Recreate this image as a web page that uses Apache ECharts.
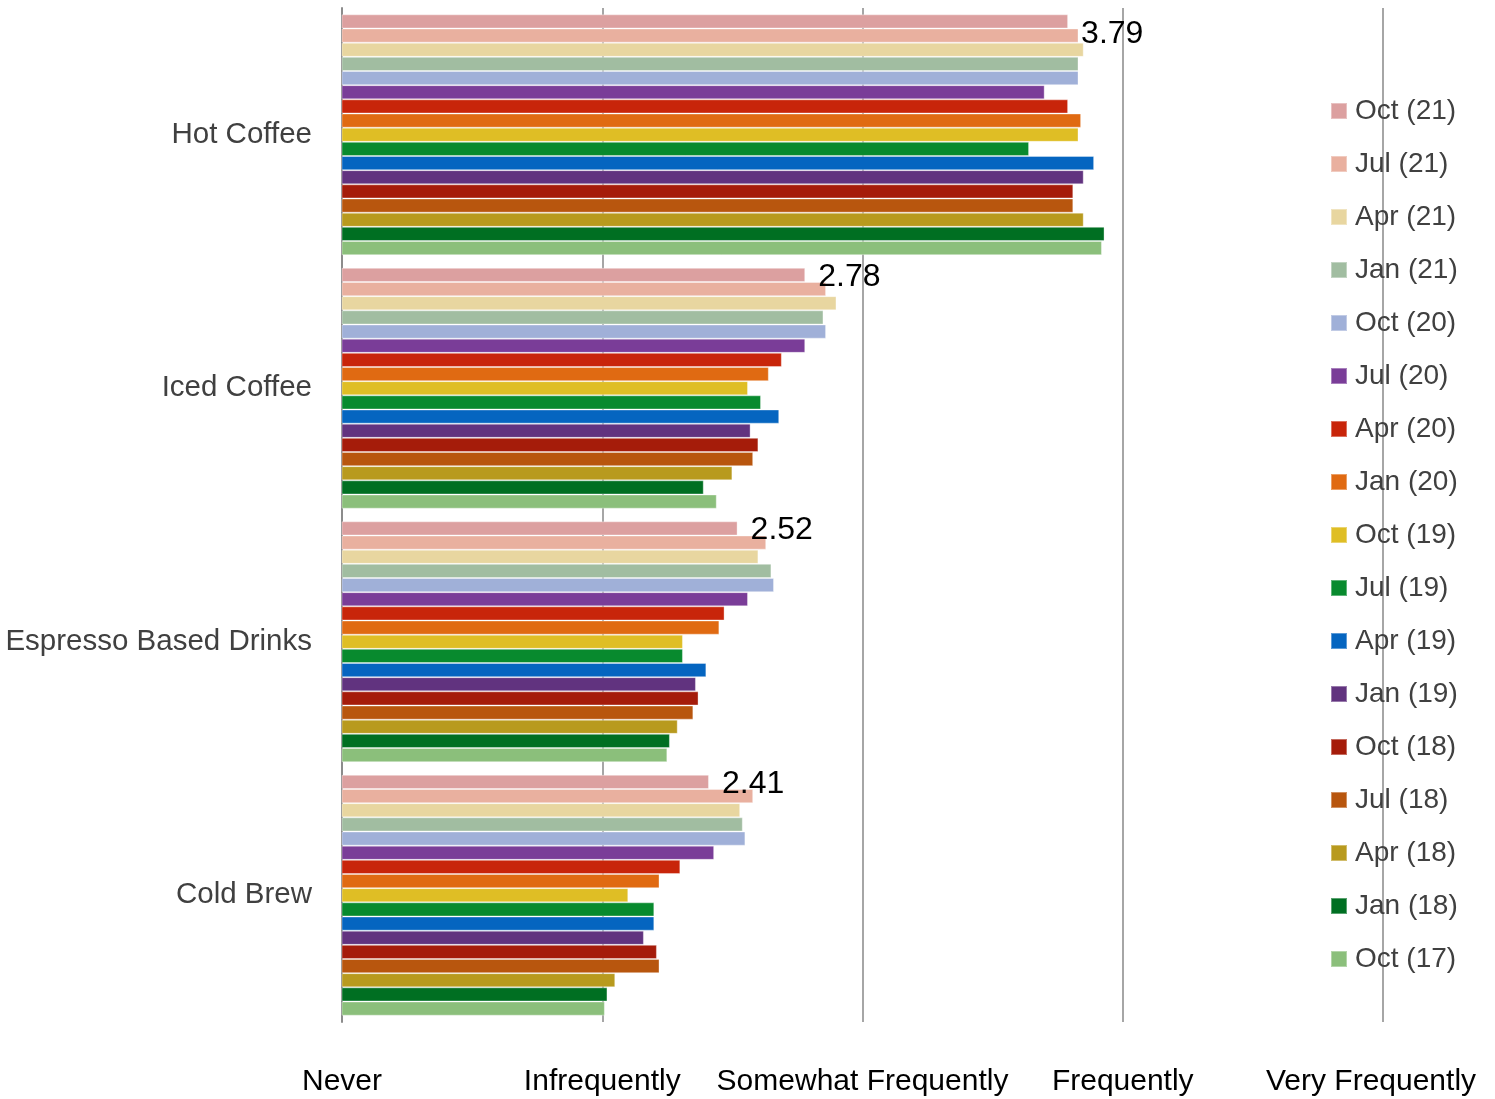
<!DOCTYPE html>
<html>
<head>
<meta charset="utf-8">
<title>Coffee drink frequency</title>
<script src="https://cdn.jsdelivr.net/npm/echarts@6/dist/echarts.min.js"></script>
<style>
  html, body { margin: 0; padding: 0; background: #fff; }
  #chart { width: 1495px; height: 1099px; }
</style>
</head>
<body>
<div id="chart"></div>
<script>
// Drink categories (top to bottom)
const categories = ['Hot Coffee', 'Iced Coffee', 'Espresso Based Drinks', 'Cold Brew'];

// Frequency scale labels for values 1..5
const tickLabels = ['Never', 'Infrequently', 'Somewhat Frequently', 'Frequently', 'Very Frequently'];

// Survey waves, newest first
const waveNames = ['Oct (21)', 'Jul (21)', 'Apr (21)', 'Jan (21)', 'Oct (20)', 'Jul (20)', 'Apr (20)', 'Jan (20)',
  'Oct (19)', 'Jul (19)', 'Apr (19)', 'Jan (19)', 'Oct (18)', 'Jul (18)', 'Apr (18)', 'Jan (18)', 'Oct (17)'];

// Mean frequency score per wave: [Hot Coffee, Iced Coffee, Espresso Based Drinks, Cold Brew]
const oct21 = [3.79, 2.78, 2.52, 2.41];
const jul21 = [3.83, 2.86, 2.63, 2.58];
const apr21 = [3.85, 2.90, 2.60, 2.53];
const jan21 = [3.83, 2.85, 2.65, 2.54];
const oct20 = [3.83, 2.86, 2.66, 2.55];
const jul20 = [3.70, 2.78, 2.56, 2.43];
const apr20 = [3.79, 2.69, 2.47, 2.30];
const jan20 = [3.84, 2.64, 2.45, 2.22];
const oct19 = [3.83, 2.56, 2.31, 2.10];
const jul19 = [3.64, 2.61, 2.31, 2.20];
const apr19 = [3.89, 2.68, 2.40, 2.20];
const jan19 = [3.85, 2.57, 2.36, 2.16];
const oct18 = [3.81, 2.60, 2.37, 2.21];
const jul18 = [3.81, 2.58, 2.35, 2.22];
const apr18 = [3.85, 2.50, 2.29, 2.05];
const jan18 = [3.93, 2.39, 2.26, 2.02];
const oct17 = [3.92, 2.44, 2.25, 2.01];

const waveValues = [oct21, jul21, apr21, jan21, oct20, jul20, apr20, jan20,
  oct19, jul19, apr19, jan19, oct18, jul18, apr18, jan18, oct17];

const waveColors = ['#dca0a0', '#e9b09f', '#e8d6a0', '#a1bda1', '#a0b0d8', '#7a3d98', '#c8250a', '#e06a12',
  '#dfbe25', '#088a2e', '#0565c0', '#61337f', '#a51c0a', '#b8560e', '#b89a1e', '#006f22', '#8bbf7b'];

const FONT = '"Liberation Sans", Arial, Helvetica, sans-serif';

const series = waveNames.map((name, i) => {
  const isLatest = i === 0;
  const data = waveValues[i].map((v, j) => {
    if (isLatest && j === 0) {
      // first label sits a little lower so it stays inside the chart
      return { value: v, label: { offset: [0, 13] } };
    }
    return v;
  });
  return {
    name: name,
    type: 'bar',
    data: data,
    barGap: '0%',
    barCategoryGap: '5%',
    clip: true,
    itemStyle: {
      color: waveColors[i],
      borderColor: 'rgba(255,255,255,0.35)',
      borderWidth: 1
    },
    label: {
      show: isLatest,
      position: 'right',
      distance: 13,
      offset: [0, 2],
      fontFamily: FONT,
      fontSize: 32,
      color: '#000',
      formatter: p => p.value.toFixed(2)
    },
    emphasis: { disabled: true }
  };
});

const chart = echarts.init(document.getElementById('chart'), null, { renderer: 'canvas' });
chart.setOption({
  animation: false,
  backgroundColor: '#ffffff',
  textStyle: { fontFamily: FONT },
  grid: { left: 342, right: 112, top: 8, bottom: 77, containLabel: false, outerBoundsMode: 'none' },
  legend: {
    orient: 'vertical',
    left: 1330,
    top: 97,
    padding: 0,
    itemWidth: 16,
    itemHeight: 16,
    itemGap: 25,
    icon: 'rect',
    data: waveNames,
    textStyle: { fontFamily: FONT, fontSize: 28, lineHeight: 28, color: '#404040', padding: [0, 0, 0, 3] }
  },
  xAxis: {
    type: 'value',
    min: 1,
    max: 5,
    interval: 1,
    axisLine: { show: false },
    axisTick: { show: false },
    splitLine: { show: true, lineStyle: { color: '#a6a6a6', width: 2 } },
    axisLabel: {
      margin: 45,
      fontFamily: FONT,
      fontSize: 30,
      color: '#000',
      formatter: v => (v === 5 ? '{last|' + tickLabels[v - 1] + '}' : (tickLabels[v - 1] || '')),
      rich: {
        last: { fontFamily: FONT, fontSize: 30, color: '#000', padding: [0, 24, 0, 0] }
      }
    }
  },
  yAxis: {
    type: 'category',
    inverse: true,
    data: categories,
    axisLine: { show: true, lineStyle: { color: '#8c8c8c', width: 2 } },
    axisTick: { show: false },
    axisLabel: { margin: 30, fontFamily: FONT, fontSize: 29.5, color: '#404040', padding: [5, 0, 0, 0] }
  },
  series: series
});
</script>
</body>
</html>
